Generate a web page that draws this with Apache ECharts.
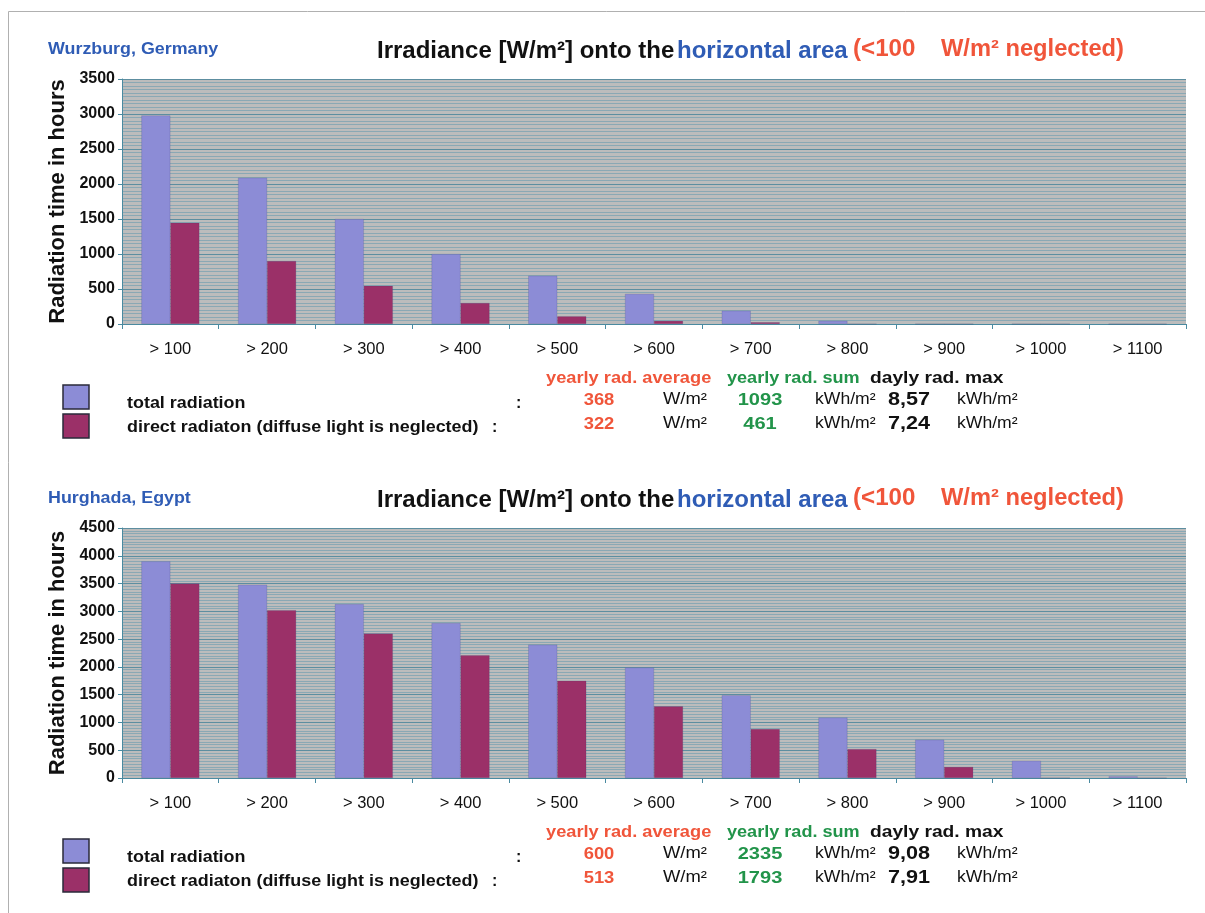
<!DOCTYPE html>
<html>
<head>
<meta charset="utf-8">
<script src="https://cdn.jsdelivr.net/npm/echarts@6/dist/echarts.min.js"></script>
<style>
html,body{margin:0;padding:0;background:#fff;}
#chart{width:1205px;height:913px;}
</style>
</head>
<body>
<div id="chart"></div>
<script>
// ---------- data ----------
const categories = ['> 100', '> 200', '> 300', '> 400', '> 500', '> 600', '> 700', '> 800', '> 900', '> 1000', '> 1100'];
const wurzburgTotal  = [2980, 2090, 1500, 1000, 690, 430, 190, 45, 0, 0, 0];
const wurzburgDirect = [1445, 900, 545, 300, 110, 45, 25, 0, 0, 0, 0];
const hurghadaTotal  = [3900, 3480, 3130, 2790, 2400, 1990, 1490, 1090, 690, 310, 30];
const hurghadaDirect = [3500, 3020, 2600, 2210, 1750, 1290, 880, 520, 200, 0, 0];

const seriesNames = ['total radiation', 'direct radiaton (diffuse light is neglected)'];
const statHeaders = ['yearly rad. average', 'yearly rad. sum', 'dayly rad. max'];
const wurzburgAvg = ['368', '322'];
const wurzburgSum = ['1093', '461'];
const wurzburgMax = ['8,57', '7,24'];
const hurghadaAvg = ['600', '513'];
const hurghadaSum = ['2335', '1793'];
const hurghadaMax = ['9,08', '7,91'];
const places = ['Wurzburg, Germany', 'Hurghada, Egypt'];
const yMax = [3500, 4500];

// ---------- style ----------
const C_BLUE_BAR = '#8c8cd6';
const C_MAG_BAR = '#9b3068';
const C_RED = '#f0553a';
const C_GREEN = '#22944a';
const C_BLUE_TXT = '#2f5cb5';
const FONT = '"Liberation Sans", Arial, sans-serif';
const SX = 1.15;

const chart = echarts.init(document.getElementById('chart'));

const gridTops = [79, 528];
const gridH = [245, 250];

function yAxisCfg(i) {
  return {
    gridIndex: i, type: 'value', min: 0, max: yMax[i], interval: 500,
    name: 'Radiation time in hours', nameLocation: 'middle', nameGap: 53,
    nameTextStyle: { fontFamily: FONT, fontWeight: 'bold', fontSize: 22, color: '#111' },
    axisLine: { show: true, lineStyle: { color: '#4a8aa0', width: 1 } },
    axisTick: { show: true, length: 4, lineStyle: { color: '#4a8aa0' } },
    axisLabel: { fontFamily: FONT, fontWeight: 'bold', fontSize: 16, color: '#111', margin: 7, formatter: function (v) { return String(v); } },
    splitLine: { show: true, lineStyle: { color: '#5d8ea0', width: 1 } },
    minorTick: { show: false, splitNumber: 10 },
    minorSplitLine: { show: true, lineStyle: { color: '#8aa8b4', width: 1 } }
  };
}
function xAxisCfg(i) {
  return {
    gridIndex: i, type: 'category', data: categories,
    axisLine: { show: true, lineStyle: { color: '#4a8aa0', width: 1 } },
    axisTick: { show: true, length: 5, lineStyle: { color: '#4a8aa0' } },
    axisLabel: { fontFamily: FONT, fontSize: 16.5, color: '#111', margin: 17 },
    splitLine: { show: false }
  };
}
function barSeries(name, data, i, color) {
  return {
    name: name, type: 'bar', xAxisIndex: i, yAxisIndex: i, data: data,
    barGap: '0%', barCategoryGap: '40%',
    itemStyle: { color: color, borderColor: 'rgba(60,60,110,0.35)', borderWidth: 0.5 },
    emphasis: { disabled: true }, animation: false
  };
}

// ---------- graphic texts ----------
const graphics = [];
// frame
graphics.push({ type: 'polyline', shape: { points: [[8.5, 913], [8.5, 11.5], [1205, 11.5]] }, style: { stroke: '#b0b0b0', lineWidth: 1, fill: null } });

function txt(x, y, text, opts, sx) {
  graphics.push({
    type: 'text', x: x, y: y, scaleX: sx || 1,
    style: Object.assign({ text: text, fontFamily: FONT, fontSize: 15, fontWeight: 'bold', fill: '#111', textAlign: 'left', textVerticalAlign: 'middle' }, opts || {})
  });
}

const avgs = [wurzburgAvg, hurghadaAvg];
const sums = [wurzburgSum, hurghadaSum];
const maxs = [wurzburgMax, hurghadaMax];
const chartOff = [0, 449];
const legOff = [0, 454];

for (let p = 0; p < 2; p++) {
  const o = chartOff[p];
  txt(48, 49 + o, places[p], { fill: C_BLUE_TXT, fontSize: 17 }, 1.05);
  // title pieces
  txt(377, 51 + o, 'Irradiance [W/m\u00b2] onto the', { fontSize: 24 });
  txt(677, 51 + o, 'horizontal area', { fontSize: 24, fill: C_BLUE_TXT });
  txt(853, 50 + o, '(<100', { fontSize: 23, fill: C_RED }, 1.05);
  txt(941, 50 + o, 'W/m\u00b2 neglected)', { fontSize: 23, fill: C_RED }, 1.03);

  const l = legOff[p];
  // legend swatches
  graphics.push({ type: 'rect', shape: { x: 63, y: 385 + l, width: 26, height: 24 }, style: { fill: C_BLUE_BAR, stroke: '#2a2a3a', lineWidth: 1.5 } });
  graphics.push({ type: 'rect', shape: { x: 63, y: 414 + l, width: 26, height: 24 }, style: { fill: C_MAG_BAR, stroke: '#2a2a3a', lineWidth: 1.5 } });
  // headers
  txt(546, 379 + l, statHeaders[0], { fill: C_RED, fontSize: 16 }, 1.14);
  txt(727, 379 + l, statHeaders[1], { fill: C_GREEN, fontSize: 16 }, 1.13);
  txt(870, 379 + l, statHeaders[2], { fill: '#111', fontSize: 16 }, 1.2);
  const rowsY = [404 + l, 428 + l];
  txt(127, rowsY[0], seriesNames[0], { fontSize: 16 }, 1.12);
  txt(127, rowsY[1], seriesNames[1], { fontSize: 16 }, 1.12);
  txt(516, rowsY[0], ':', { fontSize: 16 });
  txt(492, rowsY[1], ':', { fontSize: 16 });
  for (let r = 0; r < 2; r++) {
    const y = rowsY[r] - 4;
    txt(599, y, avgs[p][r], { fill: C_RED, fontSize: 17, textAlign: 'center' }, 1.08);
    txt(663, y, 'W/m\u00b2', { fontWeight: 'normal', fontSize: 16 }, 1.15);
    txt(760, y, sums[p][r], { fill: C_GREEN, fontSize: 17, textAlign: 'center' }, 1.18);
    txt(815, y, 'kWh/m\u00b2', { fontWeight: 'normal', fontSize: 16 }, 1.1);
    txt(909, y, maxs[p][r], { fontSize: 18, textAlign: 'center' }, 1.2);
    txt(957, y, 'kWh/m\u00b2', { fontWeight: 'normal', fontSize: 16 }, 1.1);
  }
}

const option = {
  backgroundColor: '#ffffff',
  animation: false,
  grid: [
    { left: 122, right: 19, top: gridTops[0], height: gridH[0], show: true, backgroundColor: '#bcbcbc', borderWidth: 0 },
    { left: 122, right: 19, top: gridTops[1], height: gridH[1], show: true, backgroundColor: '#bcbcbc', borderWidth: 0 }
  ],
  xAxis: [xAxisCfg(0), xAxisCfg(1)],
  yAxis: [yAxisCfg(0), yAxisCfg(1)],
  series: [
    barSeries(seriesNames[0], wurzburgTotal, 0, C_BLUE_BAR),
    barSeries(seriesNames[1], wurzburgDirect, 0, C_MAG_BAR),
    barSeries(seriesNames[0], hurghadaTotal, 1, C_BLUE_BAR),
    barSeries(seriesNames[1], hurghadaDirect, 1, C_MAG_BAR)
  ],
  graphic: graphics
};
chart.setOption(option);
</script>
</body>
</html>
